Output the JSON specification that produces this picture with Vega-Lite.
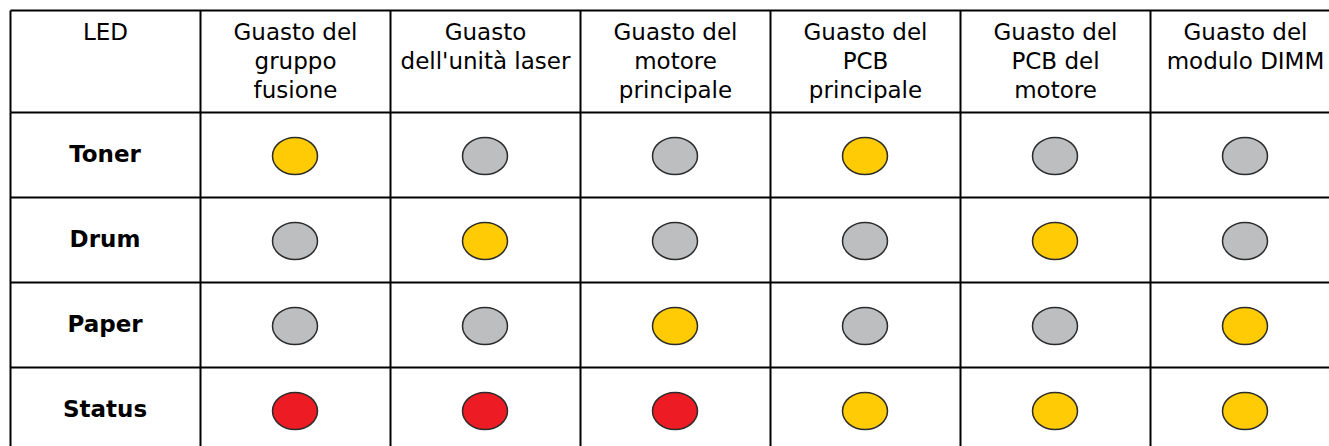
{
  "$schema": "https://vega.github.io/schema/vega-lite/v6.json",
  "autosize": {"type": "none"},
  "width": 1319,
  "height": 334,
  "padding": {"left": 10, "top": 112, "right": 0, "bottom": 0},
  "background": "white",
  "config": {"view": {"stroke": null}},
  "datasets": {
    "cells": [
      {"led": "Toner", "fault": "Guasto del\ngruppo\nfusione", "state": "yellow"},
      {"led": "Toner", "fault": "Guasto\ndell'unità laser", "state": "gray"},
      {"led": "Toner", "fault": "Guasto del\nmotore\nprincipale", "state": "gray"},
      {"led": "Toner", "fault": "Guasto del\nPCB\nprincipale", "state": "yellow"},
      {"led": "Toner", "fault": "Guasto del\nPCB del\nmotore", "state": "gray"},
      {"led": "Toner", "fault": "Guasto del\nmodulo DIMM", "state": "gray"},
      {"led": "Drum", "fault": "Guasto del\ngruppo\nfusione", "state": "gray"},
      {"led": "Drum", "fault": "Guasto\ndell'unità laser", "state": "yellow"},
      {"led": "Drum", "fault": "Guasto del\nmotore\nprincipale", "state": "gray"},
      {"led": "Drum", "fault": "Guasto del\nPCB\nprincipale", "state": "gray"},
      {"led": "Drum", "fault": "Guasto del\nPCB del\nmotore", "state": "yellow"},
      {"led": "Drum", "fault": "Guasto del\nmodulo DIMM", "state": "gray"},
      {"led": "Paper", "fault": "Guasto del\ngruppo\nfusione", "state": "gray"},
      {"led": "Paper", "fault": "Guasto\ndell'unità laser", "state": "gray"},
      {"led": "Paper", "fault": "Guasto del\nmotore\nprincipale", "state": "yellow"},
      {"led": "Paper", "fault": "Guasto del\nPCB\nprincipale", "state": "gray"},
      {"led": "Paper", "fault": "Guasto del\nPCB del\nmotore", "state": "gray"},
      {"led": "Paper", "fault": "Guasto del\nmodulo DIMM", "state": "yellow"},
      {"led": "Status", "fault": "Guasto del\ngruppo\nfusione", "state": "red"},
      {"led": "Status", "fault": "Guasto\ndell'unità laser", "state": "red"},
      {"led": "Status", "fault": "Guasto del\nmotore\nprincipale", "state": "red"},
      {"led": "Status", "fault": "Guasto del\nPCB\nprincipale", "state": "yellow"},
      {"led": "Status", "fault": "Guasto del\nPCB del\nmotore", "state": "yellow"},
      {"led": "Status", "fault": "Guasto del\nmodulo DIMM", "state": "yellow"}
    ],
    "leds": [
      {"led": "Toner"},
      {"led": "Drum"},
      {"led": "Paper"},
      {"led": "Status"}
    ]
  },
  "layer": [
    {
      "data": {"name": "cells"},
      "mark": {
        "type": "point",
        "shape": "M-1,0A1,0.82 0 1,0 1,0A1,0.82 0 1,0 -1,0Z",
        "filled": true,
        "size": 2025,
        "stroke": "#2b2b2b",
        "strokeWidth": 1.5,
        "opacity": 1,
        "yOffset": 1.5
      },
      "encoding": {
        "x": {
          "field": "fault",
          "type": "nominal",
          "sort": null,
          "scale": {
            "domain": ["LED", "Guasto del\ngruppo\nfusione", "Guasto\ndell'unità laser", "Guasto del\nmotore\nprincipale", "Guasto del\nPCB\nprincipale", "Guasto del\nPCB del\nmotore", "Guasto del\nmodulo DIMM"],
            "range": [0, 1330],
            "paddingInner": 0,
            "paddingOuter": 0
          },
          "axis": {
            "orient": "top",
            "offset": 102,
            "title": null,
            "domain": true,
            "domainColor": "black",
            "domainWidth": 2,
            "ticks": true,
            "tickBand": "extent",
            "tickSize": -102,
            "tickColor": "black",
            "tickWidth": 2,
            "grid": true,
            "gridColor": "black",
            "gridWidth": 2,
            "gridOpacity": 1,
            "labelFont": "DejaVu Sans",
            "labelFontSize": 23,
            "labelColor": "black",
            "labelLineHeight": 29,
            "labelBaseline": "alphabetic",
            "labelAlign": "center",
            "labelAngle": 0,
            "labelPadding": 73,
            "labelLimit": 0,
            "labelOverlap": false,
            "labelExpr": "split(datum.label, '\\n')"
          }
        },
        "y": {
          "field": "led",
          "type": "nominal",
          "sort": null,
          "scale": {
            "domain": ["Toner", "Drum", "Paper", "Status"],
            "range": [0, 340],
            "paddingInner": 0,
            "paddingOuter": 0
          },
          "axis": {
            "title": null,
            "domain": false,
            "ticks": false,
            "labels": false,
            "tickBand": "extent",
            "grid": true,
            "gridColor": "black",
            "gridWidth": 2,
            "gridOpacity": 1
          }
        },
        "fill": {
          "field": "state",
          "type": "nominal",
          "scale": {"domain": ["yellow", "gray", "red"], "range": ["#FFCB05", "#BCBEC0", "#ED1C24"]},
          "legend": null
        }
      }
    },
    {
      "data": {"name": "leds"},
      "mark": {
        "type": "text",
        "font": "DejaVu Sans",
        "fontWeight": "bold",
        "fontSize": 23,
        "color": "black",
        "align": "center",
        "baseline": "middle"
      },
      "encoding": {
        "x": {"datum": "LED", "type": "nominal"},
        "y": {"field": "led", "type": "nominal", "sort": null},
        "text": {"field": "led", "type": "nominal"}
      }
    }
  ]
}
